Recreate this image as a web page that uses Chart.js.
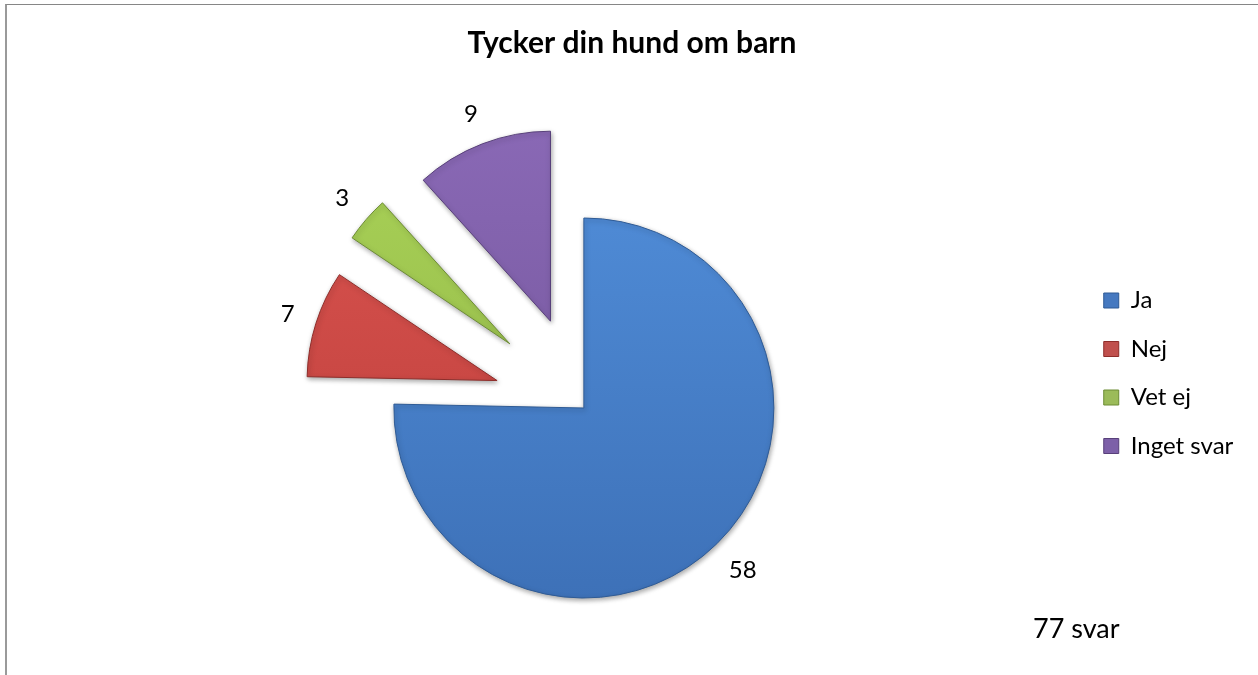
<!DOCTYPE html>
<html>
<head>
<meta charset="utf-8">
<script src="https://cdn.jsdelivr.net/npm/chart.js@4/dist/chart.umd.min.js"></script>
<style>
  html, body { margin: 0; padding: 0; background: #fff; }
  #wrap { position: relative; width: 1258px; height: 675px; overflow: hidden; }
  #frame {
    position: absolute; left: 5px; top: 4px; right: 0; bottom: 0;
    border-top: 1px solid #868686; border-left: 2px solid #9a9a9a;
  }
  #pieChart { position: absolute; left: 0; top: 0; }
</style>
</head>
<body>
<div id="wrap">
  <div id="frame"></div>
  <canvas id="pieChart" width="1258" height="675"></canvas>
</div>
<script>
// Tycker din hund om barn - pie chart

const chartTitle = 'Tycker din hund om barn';
const categories = ['Ja', 'Nej', 'Vet ej', 'Inget svar'];
const answers = [58, 7, 3, 9];
const totalText = '77 svar';

// slice look (kept apart from the data)
const sliceTop = ['#4f8bd6', '#d9534f', '#a9d257', '#8a69b6'];
const sliceBottom = ['#3a6cb2', '#b63a36', '#8db044', '#6f5296'];
const sliceMid = ['#4679c0', '#c0504d', '#9bbb59', '#7d60a8'];
const sliceEdge = ['#2f5b95', '#8e2d2a', '#6d8c35', '#58407a'];
const explodeDist = [0, 91, 98, 93]; // px pulled out along the slice bisector

const FONT = 'Lato, "Open Sans", sans-serif';

Chart.defaults.color = '#000';
Chart.defaults.font.family = FONT;

function sliceFill(ctx) {
    const chart = ctx.chart;
    const area = chart.chartArea;
    const i = ctx.dataIndex;
    if (!area) return sliceMid[i];
    const g = chart.ctx.createLinearGradient(0, area.top + 60, 0, area.bottom);
    g.addColorStop(0, sliceTop[i]);
    g.addColorStop(1, sliceBottom[i]);
    return g;
}

// soft shadow under the slices
const shadowPlugin = {
    id: 'sliceShadow',
    beforeDatasetsDraw(chart) {
        const c = chart.ctx;
        c.save();
        c.shadowColor = 'rgba(0,0,0,0.35)';
        c.shadowBlur = 5;
        c.shadowOffsetX = 1;
        c.shadowOffsetY = 2;
    },
    afterDatasetsDraw(chart) {
        chart.ctx.restore();
    }
};

// exploded slices: same arc elements, pulled out without growing the radius
const explodePlugin = {
    id: 'explode',
    beforeDatasetDraw(chart, args) {
        const c = chart.ctx;
        args.meta.data.forEach((arc, i) => {
            const d = explodeDist[i] || 0;
            const mid = (arc.startAngle + arc.endAngle) / 2;
            c.save();
            c.translate(Math.cos(mid) * d, Math.sin(mid) * d);
            arc.draw(c, chart.chartArea);
            c.restore();
        });
        return false;
    }
};

// title, value labels outside each slice, total note
const labelPlugin = {
    id: 'sliceLabels',
    afterDatasetsDraw(chart) {
        const c = chart.ctx;
        const meta = chart.getDatasetMeta(0);
        c.save();
        c.fillStyle = '#000';

        c.font = 'bold 30px ' + FONT;
        c.textAlign = 'center';
        c.textBaseline = 'alphabetic';
        c.fillText(chartTitle, chart.width / 2 + 3, 53);

        c.font = '24px ' + FONT;
        c.textBaseline = 'middle';
        meta.data.forEach((arc, i) => {
            const p = arc.getProps(['x', 'y', 'startAngle', 'endAngle', 'outerRadius'], true);
            const mid = (p.startAngle + p.endAngle) / 2;
            const text = String(answers[i]);
            const halfW = c.measureText(text).width / 2;
            const halfH = 10;
            const cx = Math.cos(mid), cy = Math.sin(mid);
            const dist = (explodeDist[i] || 0) + p.outerRadius + 20 + halfW * Math.abs(cx) + halfH * Math.abs(cy);
            c.fillText(text, p.x + cx * dist, p.y + cy * dist);
        });

        c.font = '27px ' + FONT;
        c.textAlign = 'left';
        c.fillText(totalText, chart.width - 225, chart.height - 46);
        c.restore();
    }
};

const canvas = document.getElementById('pieChart');
new Chart(canvas.getContext('2d'), {
    type: 'pie',
    data: {
        labels: categories,
        datasets: [{
            data: answers,
            backgroundColor: sliceFill,
            borderColor: sliceEdge,
            borderWidth: 1,
        }]
    },
    options: {
        responsive: false,
        animation: false,
        radius: 190,
        layout: { padding: { left: 88.5, right: 14.7, top: 141, bottom: 0 } },
        plugins: {
            title: { display: false },
            legend: {
                position: 'right',
                align: 'start',
                title: { display: true, text: '', padding: { top: 108.6, bottom: 0 }, font: { size: 12 } },
                labels: {
                    boxWidth: 15,
                    boxHeight: 15,
                    padding: 24.5,
                    color: '#000',
                    font: { size: 24, family: FONT },
                    generateLabels(chart) {
                        const items = Chart.overrides.pie.plugins.legend.labels.generateLabels(chart);
                        items.forEach((it, i) => {
                            it.fillStyle = sliceMid[i];
                            it.strokeStyle = sliceEdge[i];
                            it.lineWidth = 1;
                        });
                        return items;
                    }
                }
            },
            tooltip: { enabled: false }
        }
    },
    plugins: [shadowPlugin, explodePlugin, labelPlugin]
});
</script>
</body>
</html>
